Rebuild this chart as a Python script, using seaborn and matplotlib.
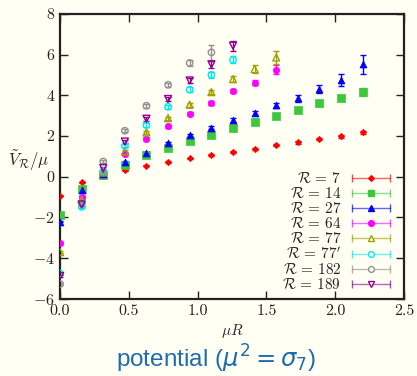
import numpy as np
import pandas as pd
import matplotlib
matplotlib.use("Agg")
import matplotlib.pyplot as plt
import seaborn as sns
from matplotlib.lines import Line2D
from matplotlib.legend_handler import HandlerBase

# ---- data ----
mu_R = [0.000, 0.157, 0.314, 0.471, 0.628, 0.785, 0.942, 1.100,
        1.257, 1.414, 1.571, 1.728, 1.885, 2.042, 2.199]

labels = [r"$\mathcal{R}\,=\,7$", r"$\mathcal{R}\,=\,14$", r"$\mathcal{R}\,=\,27$",
          r"$\mathcal{R}\,=\,64$", r"$\mathcal{R}\,=\,77$", r"$\mathcal{R}\,=\,77'$",
          r"$\mathcal{R}\,=\,182$", r"$\mathcal{R}\,=\,189$"]

v_R7 = [-0.92, -0.27, 0.02, 0.33, 0.54, 0.72, 0.90, 1.06, 1.23, 1.38, 1.54, 1.69, 1.85, 1.98, 2.18]
e_R7 = [0.03, 0.03, 0.03, 0.03, 0.03, 0.04, 0.04, 0.05, 0.05, 0.05, 0.05, 0.06, 0.06, 0.07, 0.08]
v_R14 = [-1.87, -0.59, 0.08, 0.59, 1.05, 1.41, 1.77, 2.05, 2.41, 2.69, 2.98, 3.29, 3.62, 3.88, 4.16]
e_R14 = [0.05, 0.04, 0.04, 0.04, 0.05, 0.05, 0.06, 0.06, 0.07, 0.07, 0.08, 0.09, 0.11, 0.15, 0.19]
v_R27 = [-2.20, -0.67, 0.14, 0.72, 1.19, 1.66, 2.05, 2.42, 2.80, 3.11, 3.52, 3.85, 4.31, 4.77, 5.52]
e_R27 = [0.04, 0.04, 0.04, 0.05, 0.05, 0.06, 0.07, 0.08, 0.09, 0.10, 0.12, 0.18, 0.20, 0.30, 0.47]
v_R64 = [-3.24, -0.97, 0.20, 1.13, 1.87, 2.49, 3.10, 3.64, 4.21, 4.63, 5.26]
e_R64 = [0.05, 0.05, 0.05, 0.06, 0.06, 0.07, 0.08, 0.09, 0.11, 0.14, 0.22]
v_R77 = [-3.70, -1.13, 0.22, 1.24, 2.18, 2.88, 3.54, 4.16, 4.80, 5.29, 5.86]
e_R77 = [0.05, 0.05, 0.05, 0.06, 0.07, 0.08, 0.09, 0.11, 0.13, 0.20, 0.32]
v_R77p = [-4.75, -1.48, 0.28, 1.52, 2.54, 3.44, 4.28, 5.01, 5.75]
e_R77p = [0.06, 0.06, 0.06, 0.07, 0.08, 0.09, 0.11, 0.14, 0.18]
v_R182 = [-5.27, -1.28, 0.75, 2.26, 3.49, 4.52, 5.59, 6.11]
e_R182 = [0.06, 0.06, 0.07, 0.08, 0.09, 0.11, 0.14, 0.38]
v_R189 = [-4.88, -1.36, 0.43, 1.73, 2.85, 3.82, 4.73, 5.52, 6.44]
e_R189 = [0.06, 0.06, 0.07, 0.08, 0.09, 0.11, 0.13, 0.16, 0.25]

values = [v_R7, v_R14, v_R27, v_R64, v_R77, v_R77p, v_R182, v_R189]
errors = [e_R7, e_R14, e_R27, e_R64, e_R77, e_R77p, e_R182, e_R189]

x_ticks = [0.0, 0.5, 1.0, 1.5, 2.0, 2.5]
y_ticks = [-6, -4, -2, 0, 2, 4, 6, 8]

# ---- styles ----
colors = ["#ff0000", "#3cc83c", "#0000ff", "#ff00ff", "#a0a000",
          "#00e8f0", "#909090", "#900090"]
markers = ["D", "s", "^", "o", "^", "o", "o", "v"]
filled = [True, True, True, True, False, False, False, False]
msizes = [3.2, 5.2, 5.0, 4.6, 5.0, 4.6, 4.6, 5.0]

rows = []
for lab, vals, errs in zip(labels, values, errors):
    for i, (v, e) in enumerate(zip(vals, errs)):
        rows.append({"series": lab, "muR": mu_R[i], "V": v, "err": e})
df = pd.DataFrame(rows)

bg = "#fffff3"
sns.set_theme(style="ticks")
plt.rcParams["mathtext.fontset"] = "cm"
plt.rcParams["font.family"] = ["cmr10", "DejaVu Serif"]
plt.rcParams["axes.formatter.use_mathtext"] = True

fig = plt.figure(figsize=(4.17, 3.76), dpi=100, facecolor=bg)
ax = fig.add_axes([0.144, 0.205, 0.825, 0.758])
ax.set_facecolor(bg)

for lab, c, m, f, ms in zip(labels, colors, markers, filled, msizes):
    sub = df[df["series"] == lab]
    ax.errorbar(sub["muR"], sub["V"], yerr=sub["err"], fmt="none",
                ecolor=c, elinewidth=1.0, capsize=2.5, capthick=1.0, zorder=2)
    if f:
        sns.scatterplot(data=sub, x="muR", y="V", ax=ax, marker=m, s=ms**2,
                        color=c, edgecolor=c, linewidth=0.5, zorder=3, legend=False)
    else:
        sns.scatterplot(data=sub, x="muR", y="V", ax=ax, marker=m, s=ms**2,
                        facecolor="none", edgecolor=c, linewidth=1.0, zorder=3,
                        legend=False)

ax.set_xlim(0, 2.5)
ax.set_ylim(-6, 8)
ax.set_xticks(x_ticks)
ax.set_xticklabels([f"{t:.1f}" for t in x_ticks])
ax.set_yticks(y_ticks)
ax.set_yticklabels([f"$-{abs(t)}$" if t < 0 else f"{t}" for t in y_ticks])
ax.tick_params(direction="in", top=True, right=True, length=6, width=1.0,
               labelsize=11.5, colors="#222222", pad=4)
for sp in ax.spines.values():
    sp.set_linewidth(1.6)
    sp.set_color("#222222")

ax.set_xlabel(r"$\mu R$", fontsize=11, labelpad=3)
ax.set_ylabel(r"$\tilde{V}_\mathcal{R}/\mu$", fontsize=12, rotation=0,
              ha="center", va="center")
ax.yaxis.set_label_coords(-0.09, 0.485)


class ErrbarHandler(HandlerBase):
    def create_artists(self, legend, orig_handle, xdescent, ydescent, width,
                       height, fontsize, trans):
        c = orig_handle.get_color()
        y = height / 2 - ydescent
        x0, x1 = -xdescent, -xdescent + width
        line = Line2D([x0, x1], [y, y], color=c, lw=1.0, alpha=0.6, transform=trans)
        caps = Line2D([x0, x1], [y, y], ls="none", marker="|", ms=6, mew=1.0,
                      color=c, alpha=0.7, transform=trans)
        mk = Line2D([(x0 + x1) / 2], [y], ls="none", marker=orig_handle.get_marker(),
                    ms=orig_handle.get_markersize(), color=c,
                    markerfacecolor=orig_handle.get_markerfacecolor(),
                    markeredgecolor=c, mew=1.0, transform=trans)
        return [line, caps, mk]


handles = []
for c, m, f, ms in zip(colors, markers, filled, msizes):
    handles.append(Line2D([], [], color=c, marker=m,
                          markerfacecolor=c if f else bg,
                          markersize=ms * 0.9))
leg = ax.legend(handles, labels, loc="lower right", frameon=False,
                markerfirst=False, fontsize=11, handlelength=2.5,
                handletextpad=0.7, labelspacing=0.0, borderaxespad=0.0,
                borderpad=0.0,
                bbox_to_anchor=(0.96, 0.024),
                handler_map={Line2D: ErrbarHandler()})

fig.text(0.518, 0.022, r"potential ($\mu^2 = \sigma_7$)", ha="center",
         va="baseline", fontsize=17.5, color="#1f6bb0",
         family="Liberation Sans", math_fontfamily="dejavusans")

fig.savefig("out.png", dpi=100, facecolor=bg)
